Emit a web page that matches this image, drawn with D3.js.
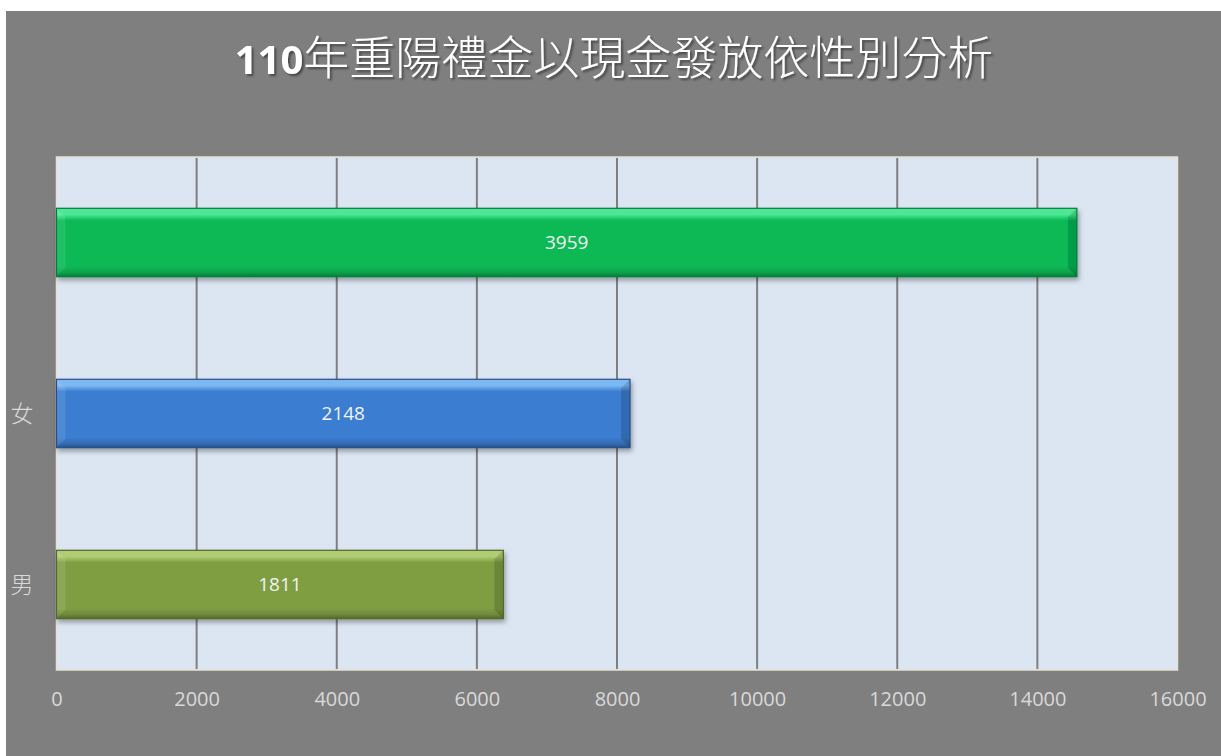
<!DOCTYPE html>
<html>
<head>
<meta charset="utf-8">
<script src="https://cdn.jsdelivr.net/npm/d3@7"></script>
<style>
  body { margin: 0; background: #fff; }
  svg { display: block; }
</style>
</head>
<body>
<svg id="chart"></svg>
<script>
// data
const categories = ['', '女', '男'];          // first row has no axis label
const barValues = [14564, 8186, 6378];        // bar lengths
const barLabels = ['3959', '2148', '1811'];   // numbers printed in bars
const xTicks = [0, 2000, 4000, 6000, 8000, 10000, 12000, 14000, 16000];
const titleNum = '110';
const titleText = '年重陽禮金以現金發放依性別分析';

const colors = [
  { base: '#08b955', light: '#4de897', dark: '#067d3b' },
  { base: '#3b7dd0', light: '#7cb8f2', dark: '#284f87' },
  { base: '#7f9e43', light: '#b0cd74', dark: '#52682a' }
];

const width = 1221, height = 756;
const plot = { left: 56.5, right: 1177.5, top: 157, bottom: 670 };

const svg = d3.select('#chart').attr('width', width).attr('height', height);
const defs = svg.append('defs');

const shadow = defs.append('filter').attr('id', 'barShadow')
  .attr('x', '-5%').attr('y', '-20%').attr('width', '110%').attr('height', '150%');
shadow.append('feDropShadow').attr('dx', 1.5).attr('dy', 3).attr('stdDeviation', 2.5)
  .attr('flood-color', '#000').attr('flood-opacity', 0.35);

const tShadow = defs.append('filter').attr('id', 'titleShadow')
  .attr('x', '-5%').attr('y', '-20%').attr('width', '110%').attr('height', '150%');
tShadow.append('feDropShadow').attr('dx', 2).attr('dy', 2).attr('stdDeviation', 1.2)
  .attr('flood-color', '#000').attr('flood-opacity', 0.45);

colors.forEach((c, i) => {
  const g = defs.append('linearGradient').attr('id', 'grad' + i)
    .attr('x1', 0).attr('y1', 0).attr('x2', 0).attr('y2', 1);
  g.append('stop').attr('offset', '0%').attr('stop-color', c.light);
  g.append('stop').attr('offset', '9%').attr('stop-color', c.light);
  g.append('stop').attr('offset', '18%').attr('stop-color', c.base);
  g.append('stop').attr('offset', '85%').attr('stop-color', c.base);
  g.append('stop').attr('offset', '94%').attr('stop-color', d3.color(c.base).darker(0.4));
  g.append('stop').attr('offset', '100%').attr('stop-color', c.dark);
});

// chart area
svg.append('rect').attr('x', 6).attr('y', 11).attr('width', width - 6).attr('height', height - 11)
  .attr('fill', '#7f7f7f');

// title
const title = svg.append('text')
  .attr('x', 614).attr('y', 74)
  .attr('text-anchor', 'middle')
  .attr('fill', '#fff')
  .attr('filter', 'url(#titleShadow)');
title.append('tspan')
  .style('font-family', '"Open Sans", "Liberation Sans", sans-serif')
  .style('font-weight', 'bold')
  .style('font-size', '40px')
  .text(titleNum);
title.append('tspan')
  .style('font-family', '"Noto Sans CJK TC", sans-serif')
  .style('font-weight', 300)
  .style('font-size', '46px')
  .text(titleText);

// plot area
svg.append('rect')
  .attr('x', plot.left).attr('y', plot.top)
  .attr('width', plot.right - plot.left).attr('height', plot.bottom - plot.top)
  .attr('fill', '#dce6f2').attr('stroke', '#e6e2d3').attr('stroke-width', 1.5);

const x = d3.scaleLinear().domain([0, 16000]).range([plot.left, plot.right]);
const y = d3.scaleBand().domain(categories).range([plot.top, plot.bottom])
  .paddingInner(0.6).paddingOuter(0.3);

// gridlines
svg.append('g')
  .selectAll('line')
  .data(xTicks.filter(d => d > 0 && d < 16000))
  .enter()
  .append('line')
  .attr('x1', d => x(d)).attr('x2', d => x(d))
  .attr('y1', plot.top + 1).attr('y2', plot.bottom - 1)
  .attr('stroke', '#7f7f7f').attr('stroke-width', 2);

// x axis labels
const xAxis = svg.append('g')
  .attr('transform', `translate(0,${plot.bottom})`)
  .call(d3.axisBottom(x).tickValues(xTicks).tickSize(0).tickPadding(22).tickFormat(d3.format('d')));
xAxis.select('.domain').remove();
xAxis.selectAll('text')
  .style('font-family', '"Open Sans", sans-serif')
  .style('font-size', '20px')
  .attr('fill', '#d9d9d9');

// category labels
svg.append('g')
  .selectAll('text')
  .data(categories)
  .enter()
  .append('text')
  .attr('x', 22)
  .attr('y', d => y(d) + y.bandwidth() / 2)
  .attr('dy', '0.36em')
  .attr('text-anchor', 'middle')
  .style('font-family', '"Noto Sans CJK TC", sans-serif')
  .style('font-weight', 300)
  .style('font-size', '23px')
  .attr('fill', '#d9d9d9')
  .text(d => d);

// bars with bevel
const b = 9;
const bars = svg.append('g')
  .selectAll('g')
  .data(categories.map((c, i) => ({ cat: c, value: barValues[i], label: barLabels[i], i })))
  .enter()
  .append('g')
  .attr('filter', 'url(#barShadow)');

bars.each(function(d) {
  const g = d3.select(this);
  const x0 = x(0), x1 = x(d.value), y0 = y(d.cat), y1 = y(d.cat) + y.bandwidth();
  const c = colors[d.i];
  g.append('rect')
    .attr('x', x0).attr('y', y0).attr('width', x1 - x0).attr('height', y1 - y0)
    .attr('fill', `url(#grad${d.i})`);
  // left bevel
  g.append('polygon')
    .attr('points', [[x0, y0], [x0 + b, y0 + b], [x0 + b, y1 - b], [x0, y1]].join(' '))
    .attr('fill', '#fff').attr('opacity', 0.1);
  // right bevel
  g.append('polygon')
    .attr('points', [[x1, y0], [x1 - b, y0 + b], [x1 - b, y1 - b], [x1, y1]].join(' '))
    .attr('fill', '#000').attr('opacity', 0.15);
  // outline
  g.append('rect')
    .attr('x', x0).attr('y', y0).attr('width', x1 - x0).attr('height', y1 - y0)
    .attr('fill', 'none').attr('stroke', c.dark).attr('stroke-width', 1.2);
});

// bar value labels
svg.append('g')
  .selectAll('text')
  .data(categories.map((c, i) => ({ cat: c, value: barValues[i], label: barLabels[i] })))
  .enter()
  .append('text')
  .attr('x', d => (x(0) + x(d.value)) / 2)
  .attr('y', d => y(d.cat) + y.bandwidth() / 2)
  .attr('dy', '0.36em')
  .attr('text-anchor', 'middle')
  .style('font-family', '"Open Sans", sans-serif')
  .style('font-size', '19px')
  .attr('fill', '#f2f2f2')
  .text(d => d.label);
</script>
</body>
</html>
